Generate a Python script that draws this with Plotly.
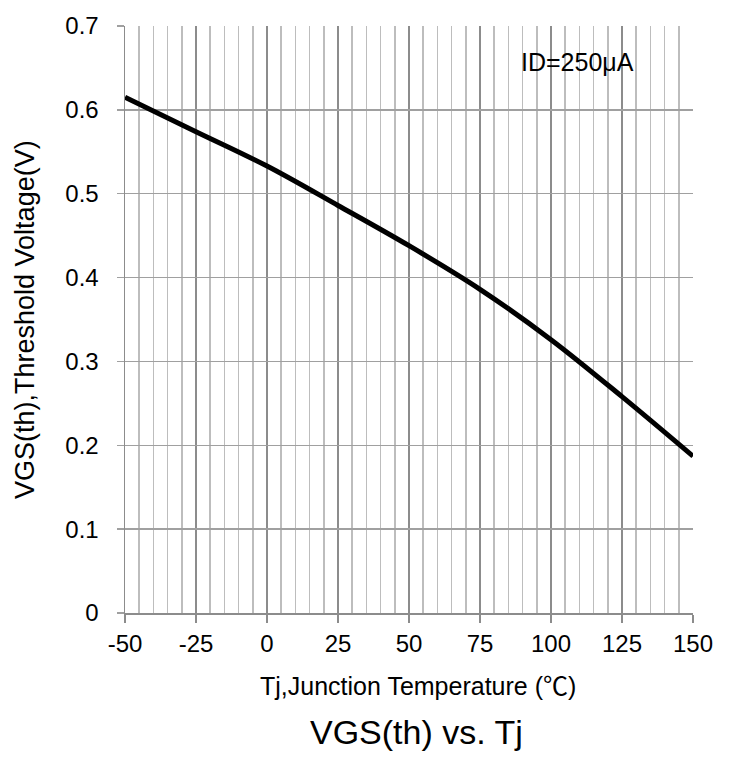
import plotly.graph_objects as go

tj = [-50, -25, 0, 25, 50, 75, 100, 125, 150]
vth = [0.615, 0.574, 0.533, 0.486, 0.438, 0.386, 0.326, 0.258, 0.187]
x_ticks = [-50, -25, 0, 25, 50, 75, 100, 125, 150]
y_ticks = [0, 0.1, 0.2, 0.3, 0.4, 0.5, 0.6, 0.7]
y_tick_text = ["0", "0.1", "0.2", "0.3", "0.4", "0.5", "0.6", "0.7"]

FONT = "Liberation Sans, Arial, sans-serif"
W, H = 731, 758
ML, MR, MT, MB = 125, 38, 22, 145

fig = go.Figure()
fig.add_trace(go.Scatter(x=tj, y=vth, mode="lines",
                         line=dict(color="black", width=5, shape="spline"),
                         showlegend=False, hoverinfo="skip"))

plot_top, plot_bottom = MT, H - MB
ph = plot_bottom - plot_top
pw = W - ML - MR

def py(pix):
    return (plot_bottom - pix) / ph

def px(pix):
    return (pix - ML) / pw

fig.update_layout(
    width=W, height=H,
    margin=dict(l=ML, r=MR, t=MT, b=MB),
    paper_bgcolor="white", plot_bgcolor="white",
    font=dict(family=FONT, size=24, color="black"),
    xaxis=dict(range=[-50, 150], tickvals=x_ticks, ticktext=[str(v) for v in x_ticks],
               showgrid=True, gridcolor="#8c8c8c", gridwidth=1.5,
               minor=dict(dtick=5, tick0=-50, showgrid=True, gridcolor="#bdbdbd", gridwidth=1.5),
               ticks="outside", ticklen=8, tickcolor="#8c8c8c", tickwidth=1.5,
               showline=True, linecolor="#8c8c8c", linewidth=1.5,
               zeroline=False, tickfont=dict(size=24), ticklabelstandoff=1),
    yaxis=dict(range=[0, 0.7], tickvals=y_ticks, ticktext=y_tick_text,
               showgrid=True, gridcolor="#a0a0a0", gridwidth=1.5,
               ticks="outside", ticklen=7, tickcolor="#a0a0a0", tickwidth=1.5,
               showline=True, linecolor="#8c8c8c", linewidth=1.5,
               zeroline=False, tickfont=dict(size=24), ticklabelstandoff=13),
    annotations=[
        dict(text="ID=250μA", x=px(577), y=py(58), xref="paper", yref="paper",
             xanchor="center", yanchor="middle", showarrow=False, font=dict(size=25)),
        dict(text="Tj,Junction Temperature (<span style='font-family:Noto Sans CJK SC'>℃</span>)",
             x=px(418), y=py(684), xref="paper", yref="paper", yanchor="middle",
             showarrow=False, font=dict(size=25)),
        dict(text="VGS(th) vs. Tj", x=px(416), y=py(733), xref="paper", yref="paper",
             yanchor="middle", showarrow=False, font=dict(size=34)),
        dict(text="VGS(th),Threshold Voltage(V)", x=px(25), y=py(318), xref="paper", yref="paper",
             xanchor="center", yanchor="middle",
             showarrow=False, textangle=-90, font=dict(size=27)),
    ],
)

fig.write_html("out.html", config={"displayModeBar": False, "staticPlot": True},
               post_script="document.body.style.margin='0';document.body.style.padding='0';")
